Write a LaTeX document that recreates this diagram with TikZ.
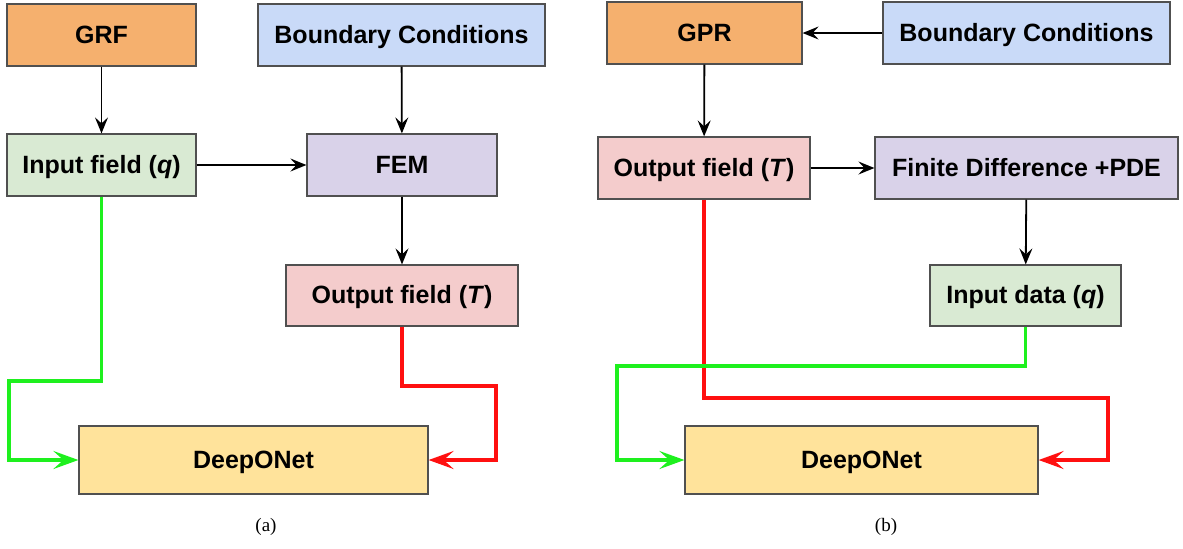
\documentclass[tikz,border=0pt]{standalone}
\usepackage{fontspec}
\setmainfont{Liberation Sans}
\newfontfamily\capfont{Liberation Serif}
\usetikzlibrary{arrows.meta}

\definecolor{grfcol}{HTML}{F5B06E}
\definecolor{bccol}{HTML}{C9DAF8}
\definecolor{incol}{HTML}{D9EAD3}
\definecolor{femcol}{HTML}{D9D2E9}
\definecolor{outcol}{HTML}{F4CCCC}
\definecolor{doncol}{HTML}{FFE39B}
\definecolor{edgecol}{HTML}{505050}
\definecolor{gcol}{HTML}{1EF01E}
\definecolor{rcol}{HTML}{FF1010}

\begin{document}
\begin{tikzpicture}[x=0.5pt,y=-0.5pt,
   blk/.style={draw=edgecol,line width=0.6pt,minimum height=31pt,inner sep=0pt,
      text height=10pt,text depth=2pt,font=\fontsize{12.5}{15}\selectfont\bfseries},
   arr/.style={line width=0.9pt,-{Stealth[length=8pt,width=6.5pt,inset=3pt]}},
   feed/.style={line width=1.8pt,-{Stealth[length=12.5pt,width=9pt,inset=5pt]}},
   captxt/.style={font=\capfont\fontsize{9.5}{11}\selectfont}]
   \useasboundingbox (0,0) rectangle (1183,548);

   % (a)
   \node[blk,fill=grfcol,minimum width=94.5pt] (grf) at (101.5,35) {GRF};
   \node[blk,fill=bccol,minimum width=143.5pt] (bca) at (401.5,35) {Boundary Conditions};
   \node[blk,fill=incol,minimum width=94.5pt] (inq) at (101.5,165) {Input field (\textit{q})};
   \node[blk,fill=femcol,minimum width=95pt] (fem) at (402,165) {FEM};
   \node[blk,fill=outcol,minimum width=116pt,minimum height=30.5pt] (outa) at (402,295.5) {Output field (\textit{T})};
   \node[blk,fill=doncol,minimum width=174.5pt,minimum height=34pt] (dona) at (253.5,460) {DeepONet};
   \node[captxt] (capa) at (266,527) {(a)};

   \draw[arr] (grf) -- (inq);
   \draw[arr] (bca) -- (fem);
   \draw[arr] (inq) -- (fem);
   \draw[arr] (fem) -- (outa);

   \coordinate (ga) at (9,381);
   \coordinate (ra) at (496,386);
   \draw[feed,gcol] (inq.south) |- (ga) |- (dona.west);
   \draw[feed,rcol] (outa.south) |- (ra) |- (dona.east);

   % (b)
   \node[blk,fill=grfcol,minimum width=97.5pt] (gpr) at (704.5,33) {GPR};
   \node[blk,fill=bccol,minimum width=143.5pt] (bcb) at (1026.5,33) {Boundary Conditions};
   \node[blk,fill=outcol,minimum width=106pt] (outb) at (704,168) {Output field (\textit{T})};
   \node[blk,fill=femcol,minimum width=151.5pt] (fd) at (1026.5,168) {Finite Difference +PDE};
   \node[blk,fill=incol,minimum width=95.5pt,minimum height=30.5pt] (inb) at (1025.5,295.5) {Input data (\textit{q})};
   \node[blk,fill=doncol,minimum width=176.5pt,minimum height=34pt] (donb) at (861.5,460) {DeepONet};
   \node[captxt] (capb) at (886,527) {(b)};

   \draw[arr] (bcb) -- (gpr);
   \draw[arr] (gpr) -- (outb);
   \draw[arr] (outb) -- (fd);
   \draw[arr] (fd) -- (inb);

   \coordinate (gb) at (617,366);
   \coordinate (rb) at (1108,398);
   \draw[feed,rcol] (outb.south) |- (rb) |- (donb.east);
   \draw[feed,gcol] (inb.south) |- (gb) |- (donb.west);
\end{tikzpicture}
\end{document}
